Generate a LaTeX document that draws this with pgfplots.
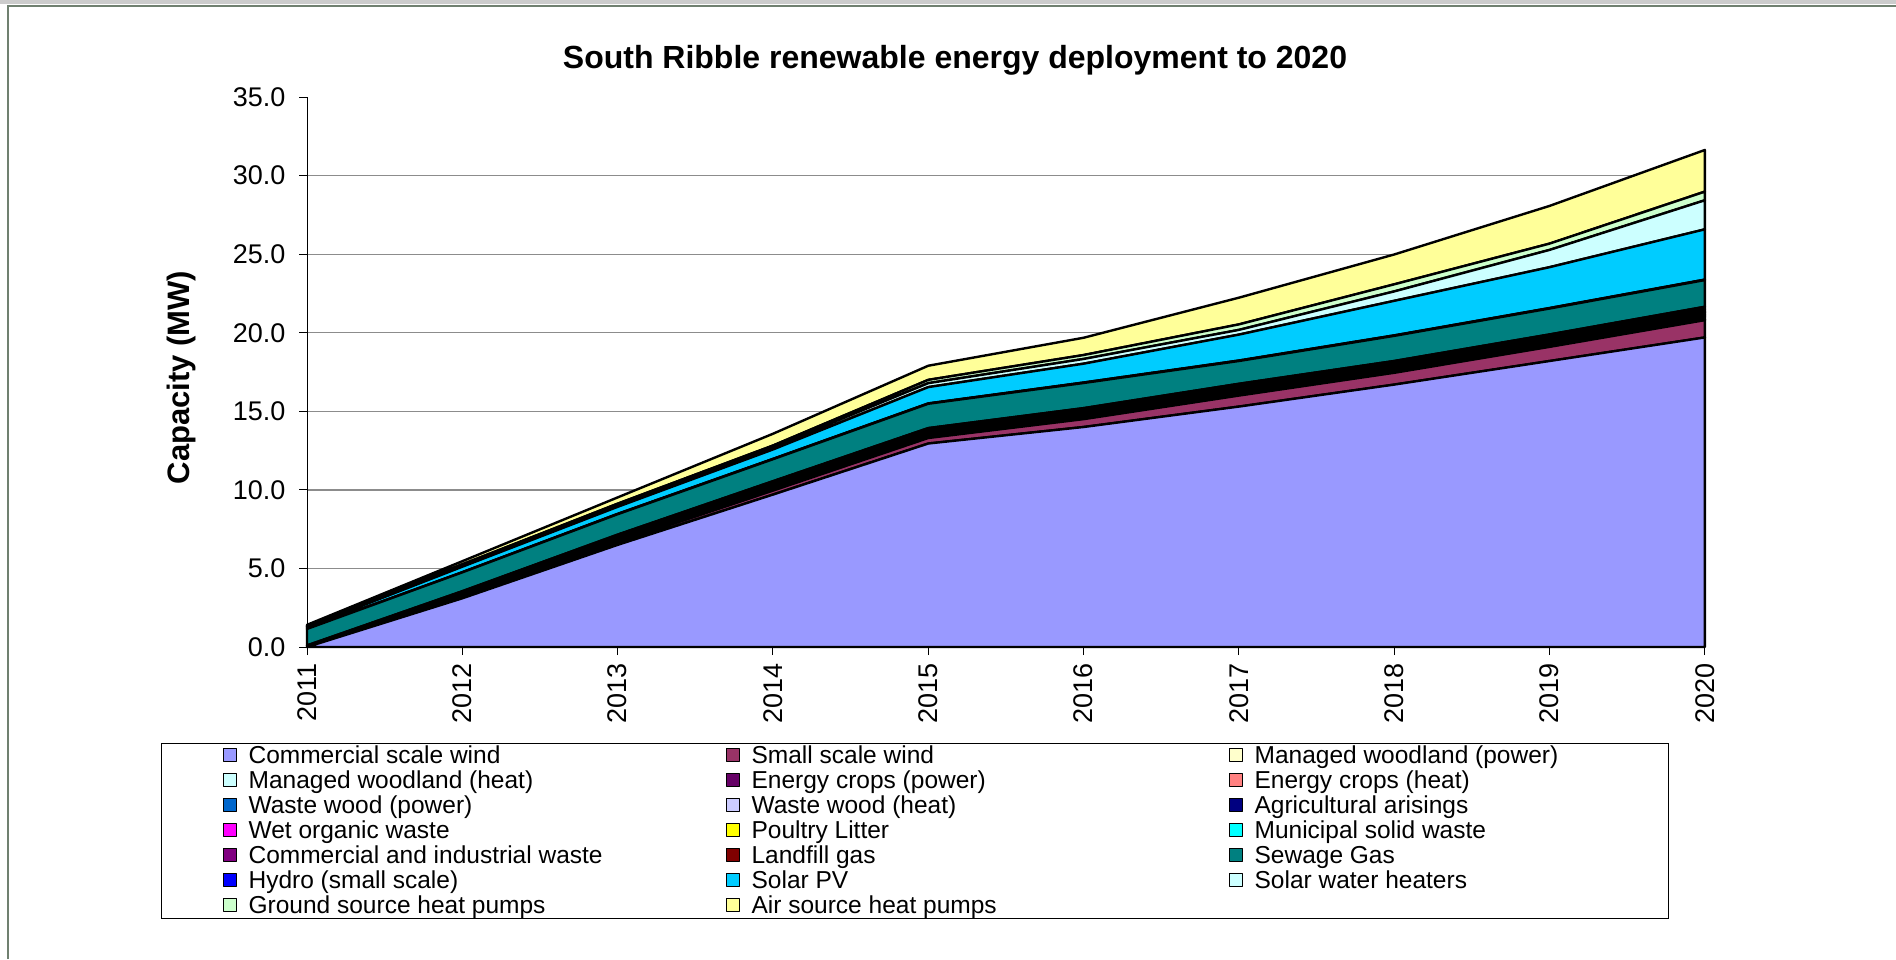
\documentclass[border=0pt]{standalone}
\usepackage{fontspec}
\setmainfont{Liberation Sans}
\usepackage{pgfplots}
\usepackage{pgfplotstable}
\pgfplotsset{compat=1.18}

\definecolor{cA}{HTML}{9999FF}
\definecolor{cB}{HTML}{993366}
\definecolor{cC}{HTML}{FFFFCC}
\definecolor{cD}{HTML}{CCFFFF}
\definecolor{cE}{HTML}{660066}
\definecolor{cF}{HTML}{FF8080}
\definecolor{cG}{HTML}{0066CC}
\definecolor{cH}{HTML}{CCCCFF}
\definecolor{cI}{HTML}{000080}
\definecolor{cJ}{HTML}{FF00FF}
\definecolor{cK}{HTML}{FFFF00}
\definecolor{cL}{HTML}{00FFFF}
\definecolor{cM}{HTML}{800080}
\definecolor{cN}{HTML}{800000}
\definecolor{cO}{HTML}{008080}
\definecolor{cP}{HTML}{0000FF}
\definecolor{cQ}{HTML}{00CCFF}
\definecolor{cR}{HTML}{CCFFFF}
\definecolor{cS}{HTML}{CCFFCC}
\definecolor{cT}{HTML}{FFFF99}
\definecolor{framec}{HTML}{708070}
\definecolor{gridc}{HTML}{8C8C8C}

\pgfplotstableread{
yr   cw    sw   mwp  mwh  ecp  ech  wwp  wwh  agr  wow  pl   msw  ciw  lfg  sg   hy   pv   swh  gshp ashp
2011 0.00  0.00 0.00 0.00 0.00 0.00 0.00 0.00 0.00 0.00 0.00 0.00 0.00 0.10 1.05 0.01 0.10 0.05 0.05 0.05
2012 3.10  0.10 0.01 0.01 0.05 0.01 0.03 0.01 0.02 0.05 0.01 0.03 0.05 0.07 1.20 0.01 0.35 0.10 0.05 0.20
2013 6.50  0.15 0.02 0.02 0.08 0.02 0.05 0.02 0.03 0.07 0.01 0.04 0.06 0.08 1.30 0.02 0.45 0.12 0.08 0.40
2014 9.70  0.25 0.02 0.03 0.10 0.02 0.06 0.03 0.04 0.08 0.01 0.05 0.07 0.09 1.40 0.02 0.60 0.15 0.10 0.75
2015 12.95 0.35 0.02 0.03 0.10 0.02 0.06 0.03 0.04 0.08 0.01 0.05 0.08 0.11 1.55 0.02 1.04 0.25 0.21 0.90
2016 14.00 0.50 0.02 0.03 0.12 0.03 0.07 0.03 0.04 0.09 0.01 0.05 0.09 0.12 1.60 0.03 1.20 0.30 0.25 1.10
2017 15.30 0.70 0.02 0.03 0.13 0.03 0.07 0.03 0.05 0.10 0.01 0.05 0.10 0.13 1.45 0.03 1.65 0.30 0.35 1.70
2018 16.70 0.75 0.02 0.03 0.13 0.03 0.07 0.03 0.05 0.10 0.01 0.05 0.10 0.13 1.60 0.03 2.20 0.60 0.45 1.90
2019 18.20 0.90 0.02 0.03 0.14 0.03 0.08 0.03 0.05 0.10 0.01 0.05 0.11 0.14 1.65 0.03 2.60 1.10 0.40 2.40
2020 19.70 1.10 0.02 0.03 0.15 0.03 0.08 0.03 0.05 0.11 0.01 0.05 0.12 0.17 1.70 0.03 3.20 1.85 0.55 2.65
}\datatable

\newcommand{\ent}[1]{\makebox[477pt][l]{#1}}
\newcommand{\entc}[1]{\makebox[353pt][l]{#1}}

\begin{document}
\begin{tikzpicture}
\useasboundingbox (0,0) rectangle (1896pt,-959pt);
\fill[white] (0,0) rectangle (1896pt,-959pt);
\fill[black!20] (0,0) rectangle (1896pt,-4pt);
\draw[framec, line width=2pt] (8pt,-959pt) -- (8pt,-6pt) -- (1896pt,-6pt);

\begin{axis}[
  scale only axis, width=1398pt, height=550pt,
  at={(307pt,-647pt)}, anchor=south west,
  xmin=2011, xmax=2020, ymin=0, ymax=35,
  stack plots=y, clip=false,
  axis lines*=left, axis line style={-},
  x axis line style={line width=2pt},
  y axis line style={line width=1pt},
  tick align=outside, major tick length=8pt,
  tick style={black, line width=1pt},
  xtick={2011,2012,...,2020},
  ytick={0,5,...,30},
  extra y ticks={35}, extra y tick style={grid=none},
  ymajorgrids, major grid style={gridc, line width=1.3pt},
  /pgf/number format/assume math mode=true,
  tick label style={font=\fontsize{27}{32}\selectfont},
  xticklabel style={rotate=90, anchor=east, xshift=-5pt, /pgf/number format/1000 sep={}},
  yticklabel style={xshift=-10pt, /pgf/number format/.cd, fixed, fixed zerofill, precision=1},
  ylabel={Capacity (MW)},
  ylabel style={font=\bfseries\fontsize{31}{36}\selectfont, at={(axis description cs:-0.0901,0.49)}, anchor=center},
  legend columns=3,
  legend cell align=left,
  legend style={at={(-0.10443,-0.17455)}, anchor=north west, draw=black, line width=1.2pt,
    inner xsep=61pt, inner ysep=0pt, font=\fontsize{24.5}{25}\selectfont,
    nodes={inner sep=0pt, text height=20pt, text depth=5pt},
    /tikz/every odd column/.append style={column sep=12pt}},
  legend image code/.code={\draw[#1, line width=1pt, draw=black] (0pt,-5pt) rectangle (13pt,8pt);},
  every axis plot/.append style={draw=black, line width=2.4pt, line join=round},
]
\addplot[fill=cA] table[x=yr,y=cw]{\datatable} \closedcycle; \addlegendentry{\ent{Commercial scale wind}}
\addplot[fill=cB] table[x=yr,y=sw]{\datatable} \closedcycle; \addlegendentry{\ent{Small scale wind}}
\addplot[fill=cC] table[x=yr,y=mwp]{\datatable} \closedcycle; \addlegendentry{\entc{Managed woodland (power)}}
\addplot[fill=cD] table[x=yr,y=mwh]{\datatable} \closedcycle; \addlegendentry{\ent{Managed woodland (heat)}}
\addplot[fill=cE] table[x=yr,y=ecp]{\datatable} \closedcycle; \addlegendentry{\ent{Energy crops (power)}}
\addplot[fill=cF] table[x=yr,y=ech]{\datatable} \closedcycle; \addlegendentry{\entc{Energy crops (heat)}}
\addplot[fill=cG] table[x=yr,y=wwp]{\datatable} \closedcycle; \addlegendentry{\ent{Waste wood (power)}}
\addplot[fill=cH] table[x=yr,y=wwh]{\datatable} \closedcycle; \addlegendentry{\ent{Waste wood (heat)}}
\addplot[fill=cI] table[x=yr,y=agr]{\datatable} \closedcycle; \addlegendentry{\entc{Agricultural arisings}}
\addplot[fill=cJ] table[x=yr,y=wow]{\datatable} \closedcycle; \addlegendentry{\ent{Wet organic waste}}
\addplot[fill=cK] table[x=yr,y=pl]{\datatable} \closedcycle; \addlegendentry{\ent{Poultry Litter}}
\addplot[fill=cL] table[x=yr,y=msw]{\datatable} \closedcycle; \addlegendentry{\entc{Municipal solid waste}}
\addplot[fill=cM] table[x=yr,y=ciw]{\datatable} \closedcycle; \addlegendentry{\ent{Commercial and industrial waste}}
\addplot[fill=cN] table[x=yr,y=lfg]{\datatable} \closedcycle; \addlegendentry{\ent{Landfill gas}}
\addplot[fill=cO] table[x=yr,y=sg]{\datatable} \closedcycle; \addlegendentry{\entc{Sewage Gas}}
\addplot[fill=cP] table[x=yr,y=hy]{\datatable} \closedcycle; \addlegendentry{\ent{Hydro (small scale)}}
\addplot[fill=cQ] table[x=yr,y=pv]{\datatable} \closedcycle; \addlegendentry{\ent{Solar PV}}
\addplot[fill=cR] table[x=yr,y=swh]{\datatable} \closedcycle; \addlegendentry{\entc{Solar water heaters}}
\addplot[fill=cS] table[x=yr,y=gshp]{\datatable} \closedcycle; \addlegendentry{\ent{Ground source heat pumps}}
\addplot[fill=cT] table[x=yr,y=ashp]{\datatable} \closedcycle; \addlegendentry{\ent{Air source heat pumps}}
\end{axis}

\node[font=\bfseries\fontsize{32}{36}\selectfont, anchor=base] at (955pt,-68pt) {South Ribble renewable energy deployment to 2020};
\end{tikzpicture}
\end{document}
